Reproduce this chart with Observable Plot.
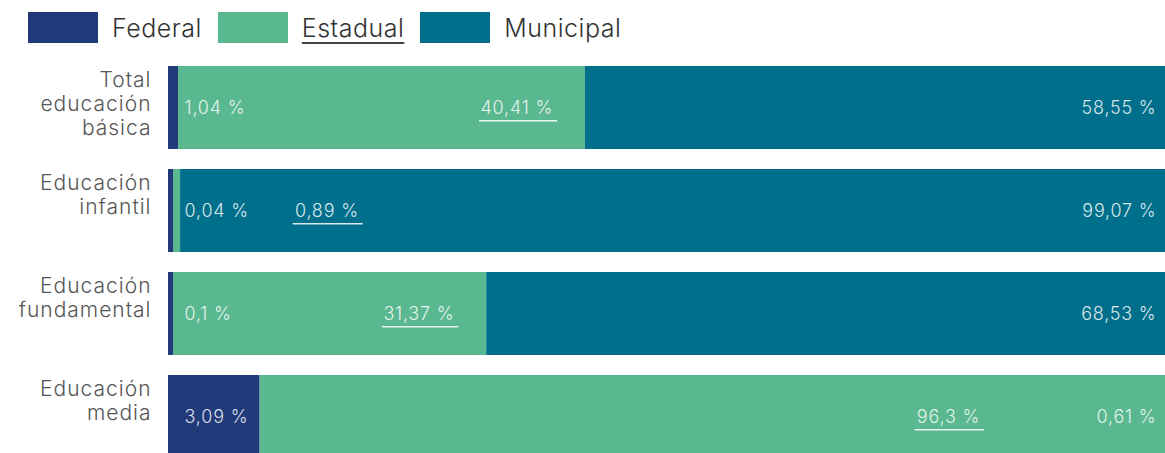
<!DOCTYPE html>
<html>
<head>
<meta charset="utf-8">
<script src="https://cdn.jsdelivr.net/npm/d3@7"></script>
<script src="https://cdn.jsdelivr.net/npm/@observablehq/plot@0.6"></script>
<style>
  html, body { margin: 0; padding: 0; background: #fff; overflow: hidden; }
  body { font-family: "Inter", "Lato", sans-serif; font-weight: 300; }
  #legend { height: 55px; box-sizing: border-box; padding: 0 0 0 28px; display: flex; align-items: flex-start; }
  .item { display: flex; align-items: center; margin-right: 16px; height: 31px; margin-top: 12px; }
  .sw { width: 70px; height: 31px; margin-right: 14px; }
  .lbl { font-size: 25px; color: #333; letter-spacing: 0.5px; }
  .lbl.active { text-decoration: underline; text-underline-offset: 5px; text-decoration-thickness: 1.5px; text-decoration-color: #444; }
  #chart svg { max-width: none !important; }
  g.catlbl text { letter-spacing: 1px; }
  g.barlbl text { letter-spacing: 0.8px; }
</style>
</head>
<body>
<div id="legend"></div>
<div id="chart"></div>
<script>
const categories = ["Total educación básica", "Educación infantil", "Educación fundamental", "Educación media"];
const series = ["Federal", "Estadual", "Municipal"];
const colors = ["#213a7a", "#5ab890", "#006f8c"];
// bar lengths (percent of full bar)
const federal = [1.0, 0.5, 0.5, 9.1];
const estadual = [40.4, 0.7, 31.1, 90.3];
const municipal = [58.6, 98.8, 68.4, 0.6];
// label texts as printed in the picture
const federalLabels = ["1,04 %", "0,04 %", "0,1 %", "3,09 %"];
const estadualLabels = ["40,41 %", "0,89 %", "31,37 %", "96,3 %"];
const municipalLabels = ["58,55 %", "99,07 %", "68,53 %", "0,61 %"];
const activeSeries = "Estadual";

const rows = [];
categories.forEach((c, i) => {
  rows.push({cat: c, series: "Federal", value: federal[i]});
  rows.push({cat: c, series: "Estadual", value: estadual[i]});
  rows.push({cat: c, series: "Municipal", value: municipal[i]});
});
const fedText = categories.map((c, i) => ({cat: c, label: federalLabels[i]}));
const munText = categories.map((c, i) => ({cat: c, label: municipalLabels[i]}));
const estText = categories.map((c, i) => ({
  cat: c,
  label: estadualLabels[i],
  pos: Math.min(Math.max(federal[i] + estadual[i] - 3.2, 18.9), 80.6)
}));

// legend
const legend = document.getElementById("legend");
series.forEach((s, i) => {
  const it = document.createElement("div");
  it.className = "item";
  it.innerHTML = `<div class="sw" style="background:${colors[i]}"></div><span class="lbl${s === activeSeries ? " active" : ""}">${s}</span>`;
  legend.appendChild(it);
});

const labelStyle = {fill: "#ffffff", fillOpacity: 0.85, fontSize: 18, fontWeight: 300};

const chart = Plot.plot({
  width: 1175,
  height: 403,
  marginLeft: 168,
  marginRight: 0,
  marginTop: 10,
  marginBottom: 0,
  style: {fontFamily: "Inter, Lato, sans-serif", fontWeight: 300, background: "#fff", maxWidth: "none"},
  x: {domain: [0, 100], axis: null},
  y: {domain: categories, paddingInner: 0.195, paddingOuter: 0, axis: null, label: null},
  color: {domain: series, range: colors},
  marks: [
    Plot.barX(rows, Plot.stackX({x: "value", y: "cat", fill: "series", order: series})),
    Plot.text(fedText, {x: 0, y: "cat", text: "label", textAnchor: "start", dx: 16, className: "barlbl", ...labelStyle}),
    Plot.text(estText, {x: "pos", y: "cat", text: "label", textAnchor: "end", className: "estlbl", ...labelStyle}),
    Plot.text(munText, {x: 100, y: "cat", text: "label", textAnchor: "end", dx: -19, className: "barlbl", ...labelStyle}),
    // category labels, top-aligned within each band like the original
    Plot.text(categories, {
      x: 0, y: d => d,
      text: d => d.split(" ").join("\n"),
      textAnchor: "end", lineAnchor: "top",
      dx: -17, dy: -38,
      fontSize: 21, lineHeight: 1.15,
      fill: "#555", fontWeight: 300,
      className: "catlbl"
    })
  ]
});
document.getElementById("chart").appendChild(chart);

// underline the highlighted series' labels, measured from the rendered text
d3.select(chart).selectAll("g.estlbl text").each(function() {
  const b = this.getBBox();
  const g = this.parentNode;
  const line = document.createElementNS("http://www.w3.org/2000/svg", "line");
  const t = this.getAttribute("transform");
  if (t) line.setAttribute("transform", t);
  line.setAttribute("x1", b.x - 7);
  line.setAttribute("x2", b.x + b.width + 4);
  line.setAttribute("y1", b.y + b.height + 3);
  line.setAttribute("y2", b.y + b.height + 3);
  line.setAttribute("stroke", "#ffffff");
  line.setAttribute("stroke-opacity", 0.85);
  line.setAttribute("stroke-width", 1.6);
  g.appendChild(line);
});
d3.select(chart).selectAll("g.estlbl text").style("letter-spacing", "0.8px");
</script>
</body>
</html>
